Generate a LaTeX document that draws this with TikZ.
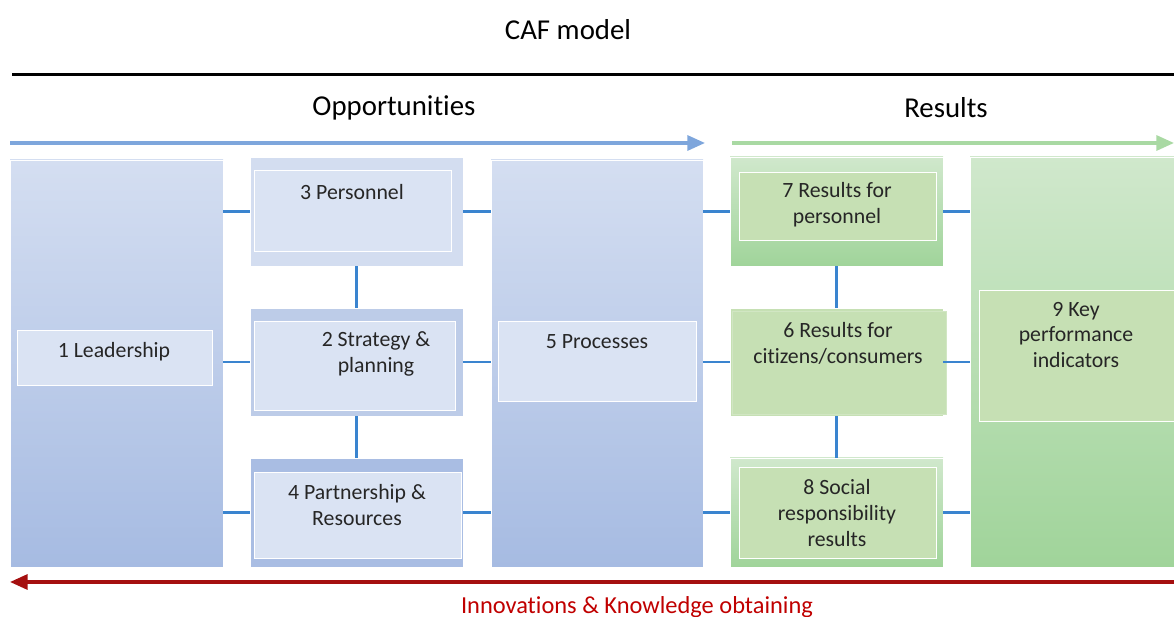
\documentclass[tikz,border=0pt]{standalone}
\usepackage{fontspec}
\setmainfont{Carlito}[Ligatures=CommonOff]
\usetikzlibrary{arrows.meta, fit, positioning}
\definecolor{bluetop}{HTML}{D4DEF1}
\definecolor{bluebot}{HTML}{A6BBE2}
\definecolor{bluein}{HTML}{DAE3F3}
\definecolor{boxthree}{HTML}{D3DDF0}
\definecolor{boxtwo}{HTML}{BDCCE8}
\definecolor{boxfour}{HTML}{A9BDE3}
\definecolor{greentop}{HTML}{D0E8CC}
\definecolor{greenbot}{HTML}{A0D49A}
\definecolor{greenin}{HTML}{C6E0B4}
\definecolor{connblue}{HTML}{3A84CF}
\definecolor{arrowblue}{HTML}{7EA6DC}
\definecolor{arrowgreen}{HTML}{A9D9A3}
\definecolor{arrowred}{HTML}{A50F0F}
\definecolor{innored}{HTML}{C00000}
\tikzstyle{column} = [rectangle, draw=white, line width=0.4pt, inner sep=0pt]
\tikzstyle{inbox} = [rectangle, draw=white, line width=0.5pt, inner sep=0pt]
\tikzstyle{lbl} = [align=center, font=\fontsize{12.4}{14.7}\selectfont, text=black!85]
\tikzstyle{head} = [font=\fontsize{16.4}{19}\selectfont]
\tikzstyle{conn} = [line width=1.4pt, draw=connblue]
\tikzstyle{flow} = [line width=1.8pt, -{Triangle[length=10pt,width=8.5pt]}]

\begin{document}
\begin{tikzpicture}[x=0.02cm, y=-0.02cm]
\useasboundingbox (0,0) rectangle (1174,617);
% headings
\node[head] (caf) at (568,30) {CAF model};
\coordinate (hl) at (12,75);
\coordinate (hr) at (1174,75);
\draw[line width=1.7pt] (hl) -- (hr);
\node[head] (opp) at (394,108) {Opportunities};
\node[head] (res) at (946,108) {Results};
\coordinate (bl) at (10,143);
\coordinate (br) at (705,143);
\coordinate (gl) at (732,143);
\coordinate (gr) at (1174,143);
\draw[flow, draw=arrowblue] (bl) -- (br);
\draw[flow, draw=arrowgreen] (gl) -- (gr);

% opportunities
\node[column, top color=bluetop, bottom color=bluebot, fit={(10,160) (223,567)}] (lead) {};
\node[inbox, fill=bluein, fit={(17,330) (212,385)}] (leadin) {};
\node[lbl] (tlead) at (114,352) {1 Leadership};
\node[column, fill=boxthree, fit={(250,157) (463,266)}] (per) {};
\node[inbox, fill=bluein, fit={(254,170) (451,251)}] (perin) {};
\node[lbl] (tper) at (352,192) {3 Personnel};
\node[column, fill=boxtwo, fit={(250,308) (463,416)}] (strat) {};
\node[inbox, fill=bluein, fit={(254,321) (455,410)}] (stratin) {};
\node[lbl] (tstrat) at (376,354) {2 Strategy \&\\planning};
\node[column, fill=boxfour, fit={(250,458) (463,567)}] (part) {};
\node[inbox, fill=bluein, fit={(254,472) (461,558)}] (partin) {};
\node[lbl] (tpart) at (357,505) {4 Partnership \&\\Resources};
\node[column, top color=bluetop, bottom color=bluebot, fit={(491,160) (703,567)}] (proc) {};
\node[inbox, fill=bluein, fit={(498,321) (696,401)}] (procin) {};
\node[lbl] (tproc) at (597,342) {5 Processes};

% results
\node[column, top color=greentop, bottom color=greenbot, fit={(730,157) (943,266)}] (rper) {};
\node[inbox, fill=greenin, fit={(739,172) (936,240)}] (rperin) {};
\node[lbl] (trper) at (837,205) {7 Results for\\personnel};
\node[column, fill=greenin, fit={(730,308) (943,416)}] (rcit) {};
\node[inbox, fill=greenin, draw=greenin!80!white, fit={(732,311) (946,414)}] (rcitin) {};
\node[lbl] (trcit) at (838,343) {6 Results for\\citizens/consumers};
\node[column, top color=greentop, bottom color=greenbot, fit={(730,458) (943,567)}] (rsoc) {};
\node[inbox, fill=greenin, fit={(739,467) (936,558)}] (rsocin) {};
\node[lbl] (trsoc) at (837,513) {8 Social\\responsibility\\results};
\node[column, top color=greentop, bottom color=greenbot, fit={(970,157) (1180,567)}] (kpi) {};
\node[inbox, fill=greenin, fit={(979,290) (1180,421)}] (kpiin) {};
\node[lbl] (tkpi) at (1076,335) {9 Key\\performance\\indicators};

% connectors
\foreach \a/\b in {per/rper, strat/rcit, part/rsoc} {
  \draw[conn] (lead.east |- \a.west) -- (\a.west);
  \draw[conn] (\a.east) -- (proc.west |- \a.east);
  \draw[conn] (proc.east |- \b.west) -- (\b.west);
  \draw[conn] (\b.east) -- (kpi.west |- \b.east);
}
\draw[conn] (per.south) -- (strat.north);
\draw[conn] (strat.south) -- (part.north);
\draw[conn] (rper.south) -- (rcit.north);
\draw[conn] (rcit.south) -- (rsoc.north);

% feedback
\coordinate (rr) at (1174,582);
\coordinate (rl) at (10,582);
\draw[flow, draw=arrowred] (rr) -- (rl);
\node[lbl, text=innored, font=\fontsize{13.9}{16}\selectfont] (inno) at (637,607) {Innovations \& Knowledge obtaining};
\end{tikzpicture}
\end{document}
